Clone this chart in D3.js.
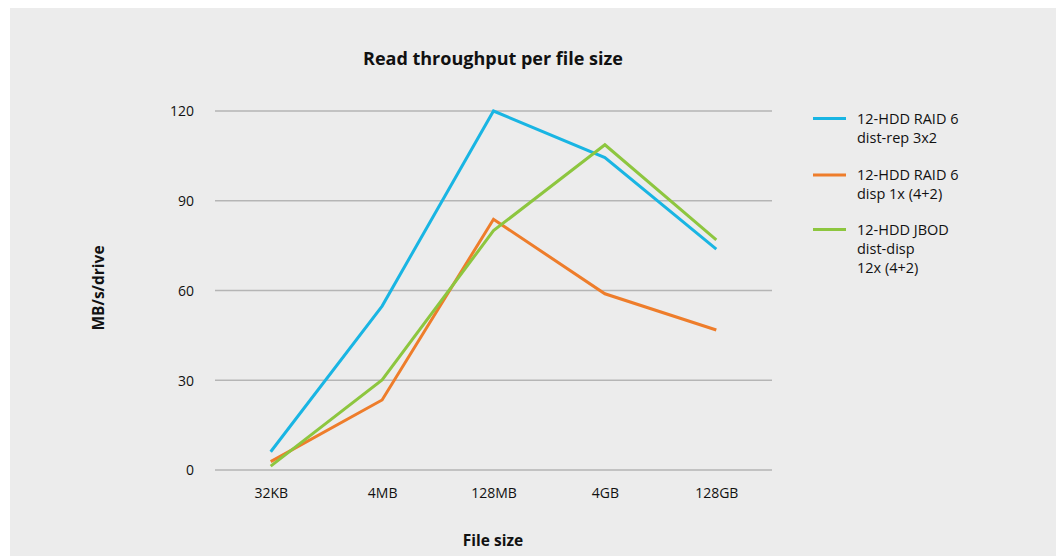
<!DOCTYPE html>
<html><head><meta charset="utf-8">
<script src="https://cdn.jsdelivr.net/npm/d3@7"></script>
<style>body{margin:0;background:#fff;font-family:"Open Sans",sans-serif;}</style>
</head><body><svg id="c" width="1058" height="556"></svg>
<script>
const categories = ["32KB","4MB","128MB","4GB","128GB"];
const seriesNames = [["12-HDD RAID 6","dist-rep 3x2"],["12-HDD RAID 6","disp 1x (4+2)"],["12-HDD JBOD","dist-disp","12x (4+2)"]];
const raid6DistRep = [6.1, 54.8, 120, 104.4, 73.8];
const raid6Disp = [2.8, 23.4, 83.8, 58.9, 46.8];
const jbodDistDisp = [1.3, 30.1, 80, 108.7, 76.9];
const yTicks = [0, 30, 60, 90, 120];
const colors = ["#19b5e3","#ee7d2b","#8dc63f"];
const allSeries = [raid6DistRep, raid6Disp, jbodDistDisp];
const FONT = "'Open Sans', sans-serif";

const svg = d3.select("#c");
svg.append("rect").attr("x",10).attr("y",8).attr("width",1046).attr("height",548).attr("fill","#ececec");

const x = d3.scalePoint().domain(categories).range([215,772]).padding(0.5);
const y = d3.scaleLinear().domain([0,120]).range([470,111]);

const grid = svg.append("g");
grid.selectAll("line").data(yTicks).join("line")
  .attr("x1",215).attr("x2",772).attr("y1",d=>y(d)).attr("y2",d=>y(d))
  .attr("stroke","#b5b5b5").attr("stroke-width",1.5);

const yAxis = svg.append("g").attr("transform","translate(194,0)")
  .call(d3.axisLeft(y).tickValues(yTicks).tickSize(0).tickPadding(0));
yAxis.select(".domain").remove();
yAxis.selectAll("text").attr("font-size",14).attr("fill","#111").attr("font-family",FONT).attr("dy","0.35em");

const xAxis = svg.append("g").attr("transform","translate(0,493)")
  .call(d3.axisBottom(x).tickSize(0).tickPadding(0));
xAxis.select(".domain").remove();
xAxis.selectAll("text").attr("font-size",14).attr("fill","#111").attr("font-family",FONT).attr("dy","0.35em");

const line = d3.line().x((d,i)=>x(categories[i])).y(d=>y(d));
allSeries.forEach((s,i)=>{
  svg.append("path").datum(s).attr("d",line).attr("fill","none")
    .attr("stroke",colors[i]).attr("stroke-width",3);
});

svg.append("text").attr("x",493).attr("y",65).attr("text-anchor","middle").attr("font-family",FONT)
  .attr("font-size",18).attr("font-weight","bold").attr("fill","#111").text("Read throughput per file size");
svg.append("text").attr("x",493).attr("y",546).attr("text-anchor","middle").attr("font-family",FONT)
  .attr("font-size",15.5).attr("font-weight","bold").attr("fill","#111").text("File size");
svg.append("text").attr("transform","translate(104,288) rotate(-90)").attr("text-anchor","middle").attr("font-family",FONT)
  .attr("font-size",15.5).attr("font-weight","bold").attr("fill","#111").text("MB/s/drive");

const legTop = [118.5, 175, 229.5];
const leg = svg.append("g");
seriesNames.forEach((names,i)=>{
  leg.append("line").attr("x1",813).attr("x2",846).attr("y1",legTop[i]).attr("y2",legTop[i])
    .attr("stroke",colors[i]).attr("stroke-width",3);
  names.forEach((t,j)=>{
    leg.append("text").attr("x",857).attr("y",legTop[i]+j*19).attr("dy","0.35em").attr("font-family",FONT)
      .attr("font-size",14.5).attr("fill","#111").text(t);
  });
});
</script></body></html>
